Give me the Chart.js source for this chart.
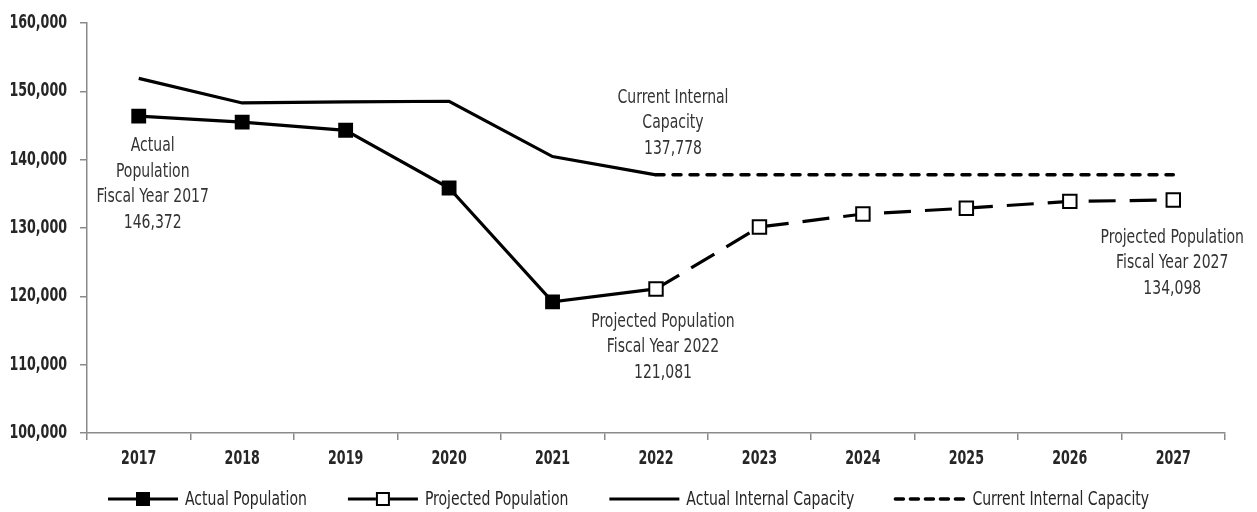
<!DOCTYPE html>
<html>
<head>
<meta charset="utf-8">
<script src="https://cdn.jsdelivr.net/npm/chart.js@4.4.1/dist/chart.umd.min.js"></script>
<style>
  html, body { margin: 0; padding: 0; background: #fff; }
  #wrap { width: 1257px; height: 512px; position: relative; }
</style>
</head>
<body>
<div id="wrap"><canvas id="chart"></canvas></div>
<script>
// ---- Data ----
const years = ["2017", "2018", "2019", "2020", "2021", "2022", "2023", "2024", "2025", "2026", "2027"];
const actualPopulation = [146372, 145500, 144300, 135850, 119200, 121081, null, null, null, null, null];
const projectedPopulation = [null, null, null, null, null, 121081, 130150, 132050, 132900, 133900, 134098];
const actualCapacity = [151900, 148300, 148450, 148550, 140450, 137778, null, null, null, null, null];
const currentCapacity = [null, null, null, null, null, 137778, 137778, 137778, 137778, 137778, 137778];
const seriesNames = ["Actual Population", "Projected Population", "Actual Internal Capacity", "Current Internal Capacity"];
const yMin = 100000, yMax = 160000, yStep = 10000;

// callouts: dataset, point index, text lines, offset from the point
const callouts = [
  { ds: 0, i: 0, lines: ["Actual", "Population", "Fiscal Year 2017", "146,372"], dx: 14, dy: 30 },
  { ds: 3, i: 5, lines: ["Current Internal", "Capacity", "137,778"], dx: 17, dy: -77 },
  { ds: 1, i: 5, lines: ["Projected Population", "Fiscal Year 2022", "121,081"], dx: 7, dy: 33 },
  { ds: 1, i: 10, lines: ["Projected Population", "Fiscal Year 2027", "134,098"], dx: -1, dy: 38 },
];

// the original face is a condensed sans; squeeze the installed condensed face to match
const FONT = '"DejaVu Sans Condensed", "Liberation Sans Narrow", sans-serif';
const SQUEEZE = 0.82, SQUEEZE_BOLD = 0.74;
const TEXT = "#262626";
const AXIS = "#8a8a8a";
Chart.defaults.font.family = FONT;

function squeezedText(ctx, text, x, y, align, k) {
  ctx.save();
  ctx.translate(x, y);
  ctx.scale(k, 1);
  ctx.textAlign = align;
  ctx.fillText(text, 0, 0);
  ctx.restore();
}

// ---- Plugin: tick labels, callouts, legend ----
const extras = {
  id: "extras",
  afterDraw(chart) {
    const ctx = chart.ctx;
    const xs = chart.scales.x, ys = chart.scales.y;
    ctx.save();
    ctx.textBaseline = "middle";

    // tick labels
    ctx.fillStyle = TEXT;
    ctx.font = `bold 19px ${FONT}`;
    ys.ticks.forEach((t) => {
      squeezedText(ctx, t.value.toLocaleString("en-US"), ys.right - 20, ys.getPixelForValue(t.value), "right", SQUEEZE_BOLD);
    });
    chart.data.labels.forEach((lab, i) => {
      squeezedText(ctx, lab, xs.getPixelForTick(i), xs.top + 26, "center", SQUEEZE_BOLD);
    });

    // callouts
    ctx.fillStyle = "#333";
    ctx.font = `19px ${FONT}`;
    callouts.forEach((c) => {
      const p = chart.getDatasetMeta(c.ds).data[c.i];
      c.lines.forEach((t, k) => squeezedText(ctx, t, p.x + c.dx, p.y + c.dy + k * 25.5, "center", SQUEEZE));
    });

    // legend
    const y = 499, sample = 70, gapText = 7, gapItem = 41;
    let x = 108;
    chart.data.datasets.forEach((d) => {
      ctx.strokeStyle = "#000";
      ctx.lineWidth = d.borderWidth;
      ctx.lineCap = d.borderCapStyle || "butt";
      ctx.setLineDash(d.legendDash || []);
      ctx.beginPath(); ctx.moveTo(x, y); ctx.lineTo(x + sample, y); ctx.stroke();
      ctx.setLineDash([]);
      if (d.legendMarker) {
        const s = 14, cx = x + sample / 2;
        ctx.fillStyle = d.pointBackgroundColor;
        ctx.fillRect(cx - s / 2, y - s / 2, s, s);
        ctx.lineWidth = 2;
        ctx.strokeRect(cx - s / 2 + 1, y - s / 2 + 1, s - 2, s - 2);
      }
      ctx.fillStyle = TEXT;
      squeezedText(ctx, d.label, x + sample + gapText, y + 1, "left", SQUEEZE);
      x += sample + gapText + ctx.measureText(d.label).width * SQUEEZE + gapItem;
    });
    ctx.restore();
  },
};

new Chart(document.getElementById("chart"), {
  type: "line",
  data: {
    labels: years,
    datasets: [
      { label: seriesNames[0], data: actualPopulation, borderColor: "#000", borderWidth: 3.2,
        pointStyle: "rect", pointRadius: actualPopulation.map((v, i) => (i < 5 ? 10.5 : 0)),
        pointBackgroundColor: "#000", pointBorderColor: "#000", pointBorderWidth: 0,
        legendMarker: true, order: 2 },
      { label: seriesNames[1], data: projectedPopulation, borderColor: "#000", borderWidth: 3.2,
        borderDash: [27, 14], legendDash: [], pointStyle: "rect", pointRadius: 9.5,
        pointBackgroundColor: "#fff", pointBorderColor: "#000", pointBorderWidth: 2,
        legendMarker: true, order: 0 },
      { label: seriesNames[2], data: actualCapacity, borderColor: "#000", borderWidth: 3.2,
        pointRadius: 0, order: 3 },
      { label: seriesNames[3], data: currentCapacity, borderColor: "#000", borderWidth: 3.5,
        borderDash: [8, 9], legendDash: [8, 7], borderCapStyle: "round", pointRadius: 0, order: 3 },
    ],
  },
  options: {
    responsive: true, maintainAspectRatio: false, animation: false,
    layout: { padding: { top: 23, right: 32, bottom: 39, left: 0 } },
    plugins: { legend: { display: false }, tooltip: { enabled: false } },
    scales: {
      x: {
        offset: true,
        grid: { offset: true, drawOnChartArea: false, tickLength: 7, color: AXIS, lineWidth: 1.5 },
        border: { color: AXIS, width: 1.5 },
        ticks: { display: false, autoSkip: false },
        afterFit: (s) => { s.height = 40; },
      },
      y: {
        min: yMin, max: yMax,
        grid: { drawOnChartArea: false, tickLength: 7, color: AXIS, lineWidth: 1.5 },
        border: { color: AXIS, width: 1.5 },
        ticks: { display: false, stepSize: yStep },
        afterFit: (s) => { s.width = 87; },
      },
    },
  },
  plugins: [extras],
});
</script>
</body>
</html>
